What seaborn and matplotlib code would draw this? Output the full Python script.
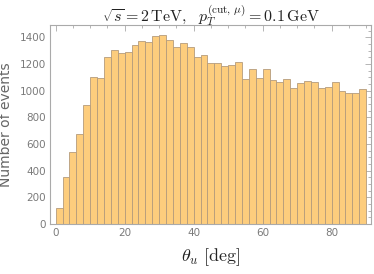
import numpy as np
import matplotlib
matplotlib.use("Agg")
import matplotlib.pyplot as plt
import seaborn as sns
from matplotlib.ticker import MultipleLocator

# bin edges (deg) and counts
bin_edges = list(range(0, 92, 2))
counts = [117, 355, 540, 672, 890, 1100, 1092, 1255, 1307, 1282,
          1292, 1340, 1370, 1365, 1410, 1415, 1377, 1327, 1357, 1325,
          1250, 1267, 1207, 1207, 1182, 1190, 1212, 1085, 1165, 1097,
          1160, 1080, 1065, 1085, 1020, 1057, 1070, 1062, 1020, 1025,
          1065, 997, 982, 982, 1015]
x_ticks = [0, 20, 40, 60, 80]
y_ticks = [0, 200, 400, 600, 800, 1000, 1200, 1400]

centers = [(a + b) / 2 for a, b in zip(bin_edges[:-1], bin_edges[1:])]

sns.set_style("white")
plt.rcParams["mathtext.fontset"] = "cm"
plt.rcParams["font.family"] = ["DejaVu Sans"]

fig = plt.figure(figsize=(3.74, 2.74), dpi=100)
ax = fig.add_axes([50 / 374, 1 - 224 / 274, 321 / 374, 199 / 274])

sns.histplot(x=centers, weights=counts, bins=bin_edges, ax=ax,
             color="#FDCD7D", alpha=1.0, edgecolor="#B59C7C", linewidth=0.6)

ax.set_xlim(-1.65, 91.4)
ax.set_ylim(0, 1492)
ax.set_xticks(x_ticks)
ax.set_yticks(y_ticks)
ax.xaxis.set_minor_locator(MultipleLocator(5))
ax.yaxis.set_minor_locator(MultipleLocator(50))
ax.tick_params(which="both", direction="in", top=True, right=True,
               colors="#aaaaaa", labelcolor="#7a7a7a", labelsize=7.5, width=0.6)
ax.tick_params(which="major", length=4, pad=3)
ax.tick_params(which="minor", length=2)
for s in ax.spines.values():
    s.set_color("#aaaaaa")
    s.set_linewidth(0.8)

ax.set_ylabel("Number of events", fontsize=10, color="#666666", labelpad=5)
ax.set_xlabel(r"$\theta_u\ [\mathrm{deg}]$", fontsize=13, color="#222222", labelpad=6)
ax.set_title(r"$\sqrt{s}=2\,\mathrm{TeV},\ \ p_T^{(\mathrm{cut},\,\mu)}=0.1\,\mathrm{GeV}$",
             fontsize=11.5, color="#222222", pad=2)

fig.savefig("out.png", dpi=100)
